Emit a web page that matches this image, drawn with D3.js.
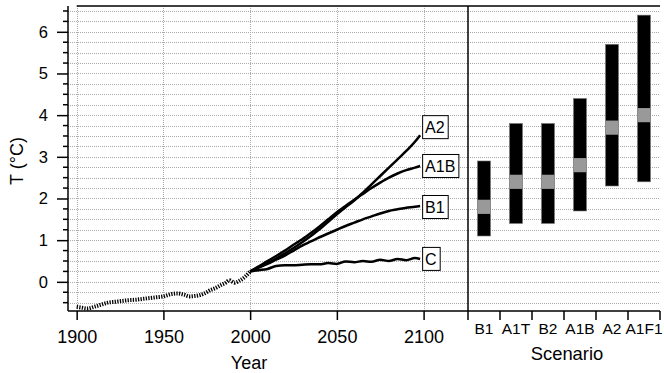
<!DOCTYPE html>
<html>
<head>
<meta charset="utf-8">
<script src="https://cdn.jsdelivr.net/npm/d3@7"></script>
<style>
  body { margin: 0; background: #fff; }
  svg { font-family: "Liberation Sans", Arial, Helvetica, sans-serif; }
</style>
</head>
<body>
<div id="chart"></div>
<script>
// observed record (year, anomaly)
const obsYears = [1900, 1903, 1906, 1910, 1914, 1918, 1922, 1926, 1930, 1934, 1938, 1942, 1946, 1950, 1954, 1958, 1962, 1965, 1968, 1971, 1974, 1977, 1980, 1983, 1986, 1988, 1991, 1994, 1997, 2000];
const obsValues = [-0.6, -0.62, -0.64, -0.6, -0.55, -0.5, -0.48, -0.46, -0.44, -0.43, -0.41, -0.39, -0.37, -0.35, -0.3, -0.28, -0.31, -0.35, -0.34, -0.32, -0.27, -0.2, -0.15, -0.08, -0.02, 0.04, -0.02, 0.03, 0.12, 0.25];

// projections
const projYears = [2000, 2005, 2010, 2015, 2020, 2025, 2030, 2035, 2040, 2045, 2050, 2055, 2060, 2065, 2070, 2075, 2080, 2085, 2090, 2095, 2098];
const seriesNames = ["A2", "A1B", "B1", "C"];
const a2Values  = [0.25, 0.35, 0.45, 0.56, 0.68, 0.81, 0.95, 1.1, 1.26, 1.44, 1.62, 1.79, 1.95, 2.14, 2.34, 2.54, 2.74, 2.94, 3.14, 3.36, 3.52];
const a1bValues = [0.25, 0.37, 0.5, 0.62, 0.75, 0.89, 1.02, 1.17, 1.33, 1.5, 1.67, 1.82, 1.97, 2.11, 2.25, 2.38, 2.5, 2.6, 2.68, 2.74, 2.78];
const b1Values  = [0.25, 0.34, 0.43, 0.53, 0.63, 0.75, 0.87, 0.97, 1.07, 1.16, 1.25, 1.34, 1.42, 1.5, 1.57, 1.64, 1.7, 1.74, 1.78, 1.8, 1.82];
const cValues   = [0.25, 0.28, 0.31, 0.38, 0.4, 0.4, 0.41, 0.42, 0.42, 0.45, 0.43, 0.49, 0.47, 0.5, 0.48, 0.53, 0.5, 0.55, 0.52, 0.57, 0.55];

// scenario ranges for 2090-2099
const scenarios = ["B1", "A1T", "B2", "A1B", "A2", "A1F1"];
const bestEstimate = [1.8, 2.4, 2.4, 2.8, 3.7, 4.0];
const rangeLow  = [1.1, 1.4, 1.4, 1.7, 2.3, 2.4];
const rangeHigh = [2.9, 3.8, 3.8, 4.4, 5.7, 6.4];

const yMajorTicks = [0, 1, 2, 3, 4, 5, 6];
const xTicks = [1900, 1950, 2000, 2050, 2100];

const W = 664, H = 373;
const m = {left: 68, divider: 468, right: 660, top: 6, bottom: 311};

const svg = d3.select("#chart").append("svg")
  .attr("width", W).attr("height", H);

const x = d3.scaleLinear().domain([1895, 2125.6]).range([m.left, m.divider]);
const y = d3.scaleLinear().domain([-0.7, 6.6]).range([m.bottom, m.top + 0.8]);
const xs = d3.scaleBand().domain(scenarios).range([m.divider, m.right]);

// grid
const minorVals = d3.range(-0.5, 6.51, 0.25);
svg.append("g").selectAll("line").data(minorVals).join("line")
  .attr("x1", m.left).attr("x2", m.right)
  .attr("y1", d => Math.round(y(d)) + 0.5).attr("y2", d => Math.round(y(d)) + 0.5)
  .attr("stroke", "#aaa").attr("stroke-width", 1).attr("stroke-dasharray", "1,1");
svg.append("g").selectAll("line").data(xTicks).join("line")
  .attr("x1", d => Math.round(x(d)) + 0.5).attr("x2", d => Math.round(x(d)) + 0.5)
  .attr("y1", m.top).attr("y2", m.bottom)
  .attr("stroke", "#aaa").attr("stroke-width", 1).attr("stroke-dasharray", "1,1");

// frame lines
svg.append("line").attr("x1", x(1900)).attr("x2", m.right).attr("y1", m.top).attr("y2", m.top)
  .attr("stroke", "#000").attr("stroke-width", 1.5);
svg.append("line").attr("x1", m.divider).attr("x2", m.divider).attr("y1", m.top).attr("y2", m.bottom)
  .attr("stroke", "#000").attr("stroke-width", 1.5);

// y axis
const yAxis = d3.axisLeft(y).tickValues(yMajorTicks).tickSize(11).tickPadding(9).tickFormat(d3.format("d"));
const gy = svg.append("g").attr("transform", `translate(${m.left},0)`).call(yAxis);
gy.select(".domain").attr("d", `M0,${m.top}V${m.bottom}`).attr("stroke-width", 1.5);
gy.selectAll(".tick line").attr("stroke-width", 1.5);
gy.selectAll(".tick text").attr("font-size", 16.5).attr("font-family", null);
gy.append("g").selectAll("line").data(minorVals.filter(v => !yMajorTicks.includes(v))).join("line")
  .attr("x1", -5).attr("x2", 0).attr("y1", d => y(d)).attr("y2", d => y(d))
  .attr("stroke", "#000").attr("stroke-width", 1.5);

// x axis (years)
const xAxis = d3.axisBottom(x).tickValues(xTicks).tickSize(9).tickPadding(10).tickFormat(d3.format("d"));
const gx = svg.append("g").attr("transform", `translate(0,${m.bottom})`).call(xAxis);
gx.select(".domain").attr("d", `M${m.left},0H${m.divider}`).attr("stroke-width", 1.5);
gx.selectAll(".tick line").attr("stroke-width", 1.5);
gx.selectAll(".tick text").attr("font-size", 18).attr("font-family", null);

// x axis (scenarios)
const gs = svg.append("g").attr("transform", `translate(0,${m.bottom})`);
gs.append("line").attr("x1", m.divider).attr("x2", m.right).attr("stroke", "#000").attr("stroke-width", 1.5);
gs.selectAll("line.tk").data(scenarios.concat(["end"])).join("line").attr("class", "tk")
  .attr("x1", d => d === "end" ? m.right : xs(d)).attr("x2", d => d === "end" ? m.right : xs(d))
  .attr("y1", 0).attr("y2", 9).attr("stroke", "#000").attr("stroke-width", 1.5);
gs.selectAll("text").data(scenarios).join("text")
  .attr("x", d => xs(d) + xs.bandwidth() / 2).attr("y", 22.5)
  .attr("text-anchor", "middle").attr("font-size", 15.5).text(d => d);

// axis titles
svg.append("text").attr("x", 249).attr("y", 368.5).attr("text-anchor", "middle")
  .attr("font-size", 18).text("Year");
svg.append("text").attr("x", 567).attr("y", 360).attr("text-anchor", "middle")
  .attr("font-size", 18.4).text("Scenario");
svg.append("text").attr("transform", "translate(23,161) rotate(-90)")
  .attr("text-anchor", "middle").attr("font-size", 18).text("T (°C)");

// observed line
const line = d3.line().x(d => x(d[0])).y(d => y(d[1])).curve(d3.curveMonotoneX);
svg.append("path").datum(obsYears.map((yr, i) => [yr, obsValues[i]]))
  .attr("d", line).attr("fill", "none").attr("stroke", "#000")
  .attr("stroke-width", 4).attr("stroke-dasharray", "1.3,1.3");

// projection lines
const projValues = [a2Values, a1bValues, b1Values, cValues];
const labelShift = { A2: -8, A1B: 0, B1: 1, C: 0 };
seriesNames.forEach((name, k) => {
  const pts = projYears.map((yr, i) => [yr, projValues[k][i]]);
  svg.append("path").datum(pts).attr("d", line)
    .attr("fill", "none").attr("stroke", "#000").attr("stroke-width", 2.5);

  const last = pts[pts.length - 1];
  const lx = x(last[0]) + 2, ly = y(last[1]) + labelShift[name];
  const g = svg.append("g");
  const rect = g.append("rect").attr("fill", "#fff").attr("stroke", "#000").attr("stroke-width", 1);
  const t = g.append("text").attr("x", lx + 3).attr("y", ly + 6).attr("font-size", 16).text(name);
  const tw = t.node().getComputedTextLength();
  rect.attr("x", lx + 0.5).attr("y", ly - 11.5).attr("width", tw + 6).attr("height", 23);
});

// scenario bars
const bw = 13, grayHalf = 0.17;
const bars = svg.append("g");
scenarios.forEach((s, i) => {
  const cx = xs(s) + xs.bandwidth() / 2;
  bars.append("rect").attr("x", cx - bw / 2).attr("width", bw)
    .attr("y", y(rangeHigh[i])).attr("height", y(rangeLow[i]) - y(rangeHigh[i]))
    .attr("fill", "#000").attr("stroke", "#777").attr("stroke-width", 0.6);
  bars.append("rect").attr("x", cx - bw / 2).attr("width", bw)
    .attr("y", y(bestEstimate[i] + grayHalf)).attr("height", y(bestEstimate[i] - grayHalf) - y(bestEstimate[i] + grayHalf))
    .attr("fill", "#999");
});
</script>
</body>
</html>
